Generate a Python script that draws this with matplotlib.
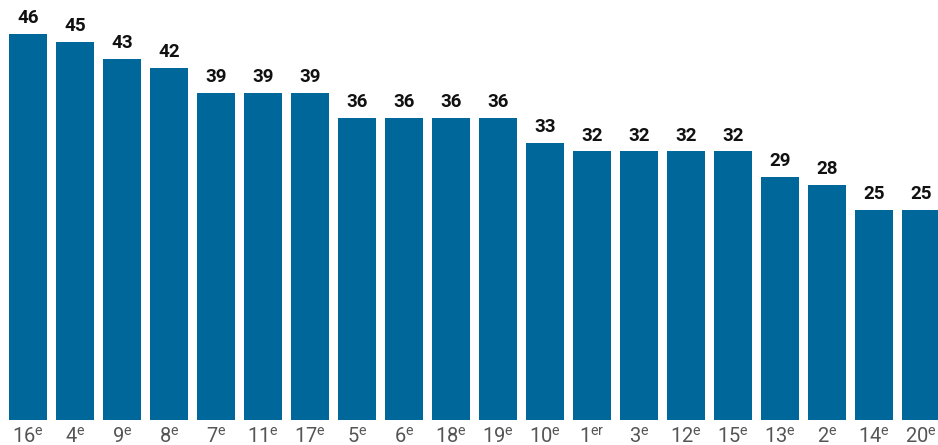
import matplotlib.pyplot as plt

plt.rcParams['font.family'] = ['Roboto', 'DejaVu Sans']
plt.rcParams['mathtext.default'] = 'regular'

# Data
arrondissements = ['16', '4', '9', '8', '7', '11', '17', '5', '6', '18',
                   '19', '10', '1', '3', '12', '15', '13', '2', '14', '20']
suffixes = ['e'] * 12 + ['er'] + ['e'] * 7
values = [46, 45, 43, 42, 39, 39, 39, 36, 36, 36,
          36, 33, 32, 32, 32, 32, 29, 28, 25, 25]

bar_color = '#00679a'

fig = plt.figure(figsize=(9.38, 4.45), dpi=100)
ax = fig.add_axes([0, 25 / 445, 1, 386 / 445])

x = range(len(values))
ax.bar(x, values, width=0.8, color=bar_color)

# value labels
for i, v in enumerate(values):
    ax.annotate(str(v), (i, v), xytext=(0, 5), textcoords='offset points',
                ha='center', va='bottom', fontsize=13.5, fontweight='bold',
                color='#111111', annotation_clip=False)

# category labels with superscript
for i, (a, s) in enumerate(zip(arrondissements, suffixes)):
    ax.annotate(f'{a}$^{{{s}}}$', (i, 0), xytext=(0, -16), textcoords='offset points',
                ha='center', va='baseline', fontsize=14.5, color='#555555',
                fontweight='normal', annotation_clip=False)

ax.set_xlim(-28 / 47, -28 / 47 + 938 / 47)
ax.set_ylim(0, 46)
ax.axis('off')

fig.savefig('out.png', dpi=100)
